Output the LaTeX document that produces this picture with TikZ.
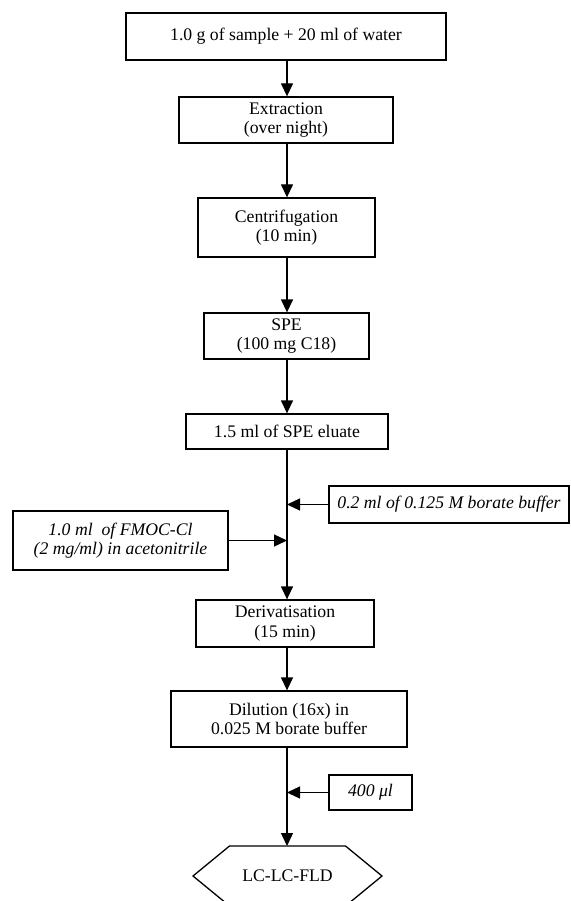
\documentclass[tikz,border=0pt]{standalone}
\usepackage{fontspec}
\setmainfont{Liberation Serif}
\usetikzlibrary{arrows.meta,positioning,calc}

\begin{document}
\begin{tikzpicture}[x=1pt,y=-1pt,
  every node/.style={font=\fontsize{17.7}{19.5}\selectfont},
  stepbox/.style={rectangle, draw, line width=1.3pt, align=center, inner sep=2pt},
  addbox/.style={stepbox, font=\fontsize{17.7}{19.5}\selectfont\itshape},
  flow/.style={line width=1.3pt, -{Triangle[length=13pt,width=12pt]}}
]
  \useasboundingbox (0,0) rectangle (570,901);
  \coordinate (axis) at (287,0);

  % main steps
  \node[stepbox, minimum width=320, minimum height=47] (sample) at (286,36.5)
      {1.0 g of sample + 20 ml of water};
  \node[stepbox, minimum width=214, minimum height=46] (extract) at (286,120)
      {Extraction\\(over night)};
  \node[stepbox, minimum width=177, minimum height=59] (centri) at (286.5,227.5)
      {Centrifugation\\(10 min)};
  \node[stepbox, minimum width=165, minimum height=46] (spe) at (286.5,336)
      {SPE\\(100 mg C18)};
  \node[stepbox, minimum width=202, minimum height=35] (eluate) at (287,431.5)
      {1.5 ml of SPE eluate};
  \node[stepbox, minimum width=178, minimum height=47] (deriv) at (285,623.5)
      {Derivatisation\\(15 min)};
  \node[stepbox, minimum width=236, minimum height=56] (dilute) at (289,719)
      {Dilution (16x) in\\0.025 M borate buffer};

  % additions
  \node[addbox, minimum width=240, minimum height=37] (borate) at (449,504.5)
      {0.2 ml of 0.125 M borate buffer};
  \node[addbox, minimum width=215, minimum height=59] (fmoc) at (120.5,540.5)
      {1.0 ml~ of FMOC-Cl\\(2 mg/ml) in acetonitrile};
  \node[addbox, minimum width=83, minimum height=35] (inject) at (370.5,792.5)
      {400 μl};

  % detection
  \node (lclc) at (287.5,876) {LC-LC-FLD};
  \draw[line width=1.3pt] ($(lclc)+(-94.5,0)$) -- ($(lclc)+(-58,-30)$)
      -- ($(lclc)+(58,-30)$) -- ($(lclc)+(94.5,0)$)
      -- ($(lclc)+(58,30)$) -- ($(lclc)+(-58,30)$) -- cycle;
  \coordinate (lclctop) at ($(lclc)+(0,-30)$);

  % flow
  \draw[flow] (sample.south -| axis) -- (extract.north -| axis);
  \draw[flow] (extract.south -| axis) -- (centri.north -| axis);
  \draw[flow] (centri.south -| axis) -- (spe.north -| axis);
  \draw[flow] (spe.south -| axis) -- (eluate.north -| axis);
  \draw[flow] (eluate.south -| axis) -- (deriv.north -| axis);
  \draw[flow] (deriv.south -| axis) -- (dilute.north -| axis);
  \draw[flow] (dilute.south -| axis) -- (lclctop -| axis);
  \draw[flow] (borate.west) -- (borate.west -| axis);
  \draw[flow] (fmoc.east) -- (fmoc.east -| axis);
  \draw[flow] (inject.west) -- (inject.west -| axis);
\end{tikzpicture}
\end{document}
